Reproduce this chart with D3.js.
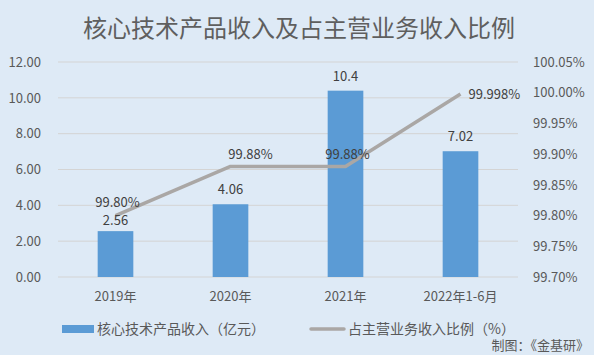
<!DOCTYPE html>
<html>
<head>
<meta charset="utf-8">
<script src="https://cdn.jsdelivr.net/npm/d3@7/dist/d3.min.js"></script>
<style>
  body { margin: 0; background: #deeaf6; overflow: hidden; }
  svg { display: block; }
  text { font-family: "Noto Sans CJK SC", "Noto Sans", sans-serif; fill: #595959; }
</style>
</head>
<body>
<div id="chart"></div>
<script>
// data
var categories = ["2019年", "2020年", "2021年", "2022年1-6月"];
var revenue = [2.56, 4.06, 10.4, 7.02];
var revenueLabels = ["2.56", "4.06", "10.4", "7.02"];
var share = [99.80, 99.88, 99.88, 99.998];
var shareLabels = ["99.80%", "99.88%", "99.88%", "99.998%"];
var leftTicks = [0, 2, 4, 6, 8, 10, 12];
var rightTicks = [99.70, 99.75, 99.80, 99.85, 99.90, 99.95, 100.00, 100.05];

// label nudges (dx, dy, anchor) for the percent labels
var shareLabelPos = [[2, -9, "middle"], [20, -7, "middle"], [2, -7, "middle"], [8, 5, "start"]];

var width = 594, height = 355;
var margin = { top: 62, right: 76, bottom: 78, left: 58 };
var innerWidth = width - margin.left - margin.right;
var innerHeight = height - margin.top - margin.bottom;

var svg = d3.select("#chart").append("svg")
    .attr("width", width)
    .attr("height", height);

svg.append("rect").attr("width", width).attr("height", height).attr("fill", "#deeaf6");

svg.append("text")
    .attr("x", width / 2 + 2)
    .attr("y", 37)
    .attr("text-anchor", "middle")
    .style("font-size", "24px")
    .style("fill", "#5f5f5f")
    .text("核心技术产品收入及占主营业务收入比例");

var g = svg.append("g").attr("transform", "translate(" + margin.left + "," + margin.top + ")");

var xScale = d3.scaleBand().domain(categories).range([0, innerWidth]).paddingInner(0.69).paddingOuter(0.345);
var xCenter = d3.scaleBand().domain(categories).range([0, innerWidth]);
var yLeft = d3.scaleLinear().domain([0, 12]).range([innerHeight, 0]);
var yRight = d3.scaleLinear().domain([99.70, 100.05]).range([innerHeight, 0]);

// gridlines
g.append("g").selectAll("line")
    .data(leftTicks)
    .join("line")
    .attr("x1", 0).attr("x2", innerWidth)
    .attr("y1", d => yLeft(d)).attr("y2", d => yLeft(d))
    .attr("stroke", "#d4d4d4").attr("stroke-width", 1);

function styleAxis(sel, anchor) {
    sel.select(".domain").remove();
    sel.attr("font-family", null).attr("font-size", null);
    sel.selectAll("text")
        .attr("text-anchor", anchor)
        .style("font-size", "13px")
        .style("fill", "#595959");
}

// left axis
var leftAxis = d3.axisLeft(yLeft).tickValues(leftTicks).tickFormat(d3.format(".2f")).tickSize(0).tickPadding(17);
var la = g.append("g").call(leftAxis);
styleAxis(la, "end");

// right axis
var rightAxis = d3.axisRight(yRight).tickValues(rightTicks).tickFormat(d => d3.format(".2f")(d) + "%").tickSize(0).tickPadding(15);
var ra = g.append("g").attr("transform", "translate(" + innerWidth + ",0)").call(rightAxis);
styleAxis(ra, "start");

// x axis
var xAxis = d3.axisBottom(xCenter).tickSize(0).tickPadding(15);
var xa = g.append("g").attr("transform", "translate(0," + innerHeight + ")").call(xAxis);
styleAxis(xa, "middle");

// bars
g.append("g").selectAll("rect")
    .data(revenue)
    .join("rect")
    .attr("x", (d, i) => xScale(categories[i]))
    .attr("y", d => yLeft(d))
    .attr("width", xScale.bandwidth())
    .attr("height", d => innerHeight - yLeft(d))
    .attr("fill", "#5b9bd5");

// line
var line = d3.line()
    .x((d, i) => xCenter(categories[i]) + xCenter.bandwidth() / 2)
    .y(d => yRight(d));

g.append("path")
    .datum(share)
    .attr("d", line)
    .attr("fill", "none")
    .attr("stroke", "#aaa7a5")
    .attr("stroke-width", 3.5)
    .attr("stroke-linejoin", "round");

// bar labels
g.append("g").selectAll("text")
    .data(revenue)
    .join("text")
    .attr("x", (d, i) => xCenter(categories[i]) + xCenter.bandwidth() / 2)
    .attr("y", (d, i) => yLeft(d) - (i === 0 ? 6 : 10))
    .attr("text-anchor", "middle")
    .style("font-size", "13px")
    .style("fill", "#404040")
    .text((d, i) => revenueLabels[i]);

// line labels
g.append("g").selectAll("text")
    .data(share)
    .join("text")
    .attr("x", (d, i) => xCenter(categories[i]) + xCenter.bandwidth() / 2 + shareLabelPos[i][0])
    .attr("y", (d, i) => yRight(d) + shareLabelPos[i][1])
    .attr("text-anchor", (d, i) => shareLabelPos[i][2])
    .style("font-size", "13px")
    .style("fill", "#404040")
    .text((d, i) => shareLabels[i]);

// legend
var legend = svg.append("g");
legend.append("rect").attr("x", 62).attr("y", 325).attr("width", 32).attr("height", 8).attr("fill", "#5b9bd5");
legend.append("text").attr("x", 97).attr("y", 334).attr("text-anchor", "start").style("font-size", "14px").text("核心技术产品收入（亿元）");
legend.append("line").attr("x1", 311).attr("x2", 344).attr("y1", 329).attr("y2", 329)
    .attr("stroke", "#aaa7a5").attr("stroke-width", 3.5).attr("stroke-linecap", "round");
legend.append("text").attr("x", 348).attr("y", 334).attr("text-anchor", "start").style("font-size", "14px").text("占主营业务收入比例（%）");

svg.append("text")
    .attr("x", 589).attr("y", 350)
    .attr("text-anchor", "end")
    .style("font-size", "13px")
    .text("制图：《金基研》");
</script>
</body>
</html>
